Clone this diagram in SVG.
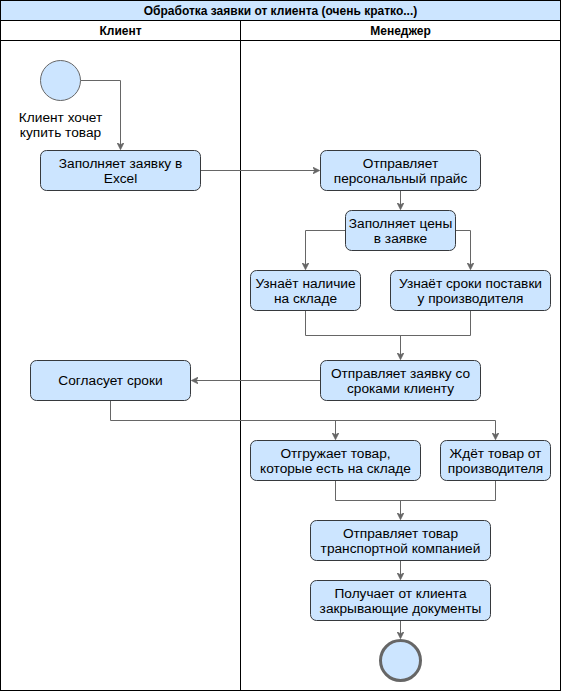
<svg xmlns="http://www.w3.org/2000/svg" width="561" height="691" viewBox="0 0 561 691">
<defs>
<style>
.box{fill:#cce5ff;stroke:#36393d;stroke-width:1}
.t{font-family:"Liberation Sans",Arial,sans-serif;font-size:13.7px;fill:#000;text-anchor:middle}
.h{font-family:"Liberation Sans",Arial,sans-serif;font-size:12px;font-weight:bold;fill:#000;text-anchor:middle}
.c{fill:none;stroke:#666666;stroke-width:1}
.lane{fill:none;stroke:#000;stroke-width:1}
</style>
<marker id="arr" viewBox="0 0 10 10" refX="9" refY="5" markerWidth="7" markerHeight="7" orient="auto" markerUnits="userSpaceOnUse">
<path d="M0,0 L10,5 L0,10 L3,5 Z" fill="#666666" stroke="#666666" stroke-width="1"/>
</marker>
</defs>
<rect x="0" y="0" width="561" height="691" fill="#ffffff"/>
<g id="pool">
<rect x="0.5" y="0.5" width="560" height="20" fill="#cce5ff" stroke="#000"/>
<rect class="lane" x="0.5" y="0.5" width="560" height="690"/>
<line class="lane" x1="0.5" y1="40.5" x2="560.5" y2="40.5"/>
<line class="lane" x1="240.5" y1="20.5" x2="240.5" y2="690.5"/>
<text class="h" x="280.5" y="14.8">Обработка заявки от клиента (очень кратко...)</text>
<text class="h" x="120.5" y="34.8">Клиент</text>
<text class="h" x="400.5" y="34.8">Менеджер</text>
</g>
<g id="connectors">
<path class="c" d="M80.5,80.5 H120.5 V149" marker-end="url(#arr)"/>
<path class="c" d="M200.5,170.5 H319" marker-end="url(#arr)"/>
<path class="c" d="M400.5,190.5 V209" marker-end="url(#arr)"/>
<path class="c" d="M345.5,230.5 H305.5 V269" marker-end="url(#arr)"/>
<path class="c" d="M455.5,230.5 H470.5 V269" marker-end="url(#arr)"/>
<path class="c" d="M305.5,310.5 V335.5 H470.5 V310.5"/>
<path class="c" d="M400.5,335.5 V359" marker-end="url(#arr)"/>
<path class="c" d="M320.5,380.5 H192" marker-end="url(#arr)"/>
<path class="c" d="M110.5,400.5 V420.5 H495.5 V439" marker-end="url(#arr)"/>
<path class="c" d="M335.5,420.5 V439" marker-end="url(#arr)"/>
<path class="c" d="M335.5,480.5 V500.5 H495.5 V480.5"/>
<path class="c" d="M400.5,500.5 V519" marker-end="url(#arr)"/>
<path class="c" d="M400.5,560.5 V579" marker-end="url(#arr)"/>
<path class="c" d="M400.5,620.5 V638" marker-end="url(#arr)"/>
</g>
<g id="start">
<circle class="box" cx="60.5" cy="80.5" r="20" style="stroke:#666666"/>
<text class="t" x="60.5" y="121.5">Клиент хочет</text>
<text class="t" x="60.5" y="136.5">купить товар</text>
</g>
<g id="n1">
<rect class="box" x="40.5" y="150.5" width="160" height="40" rx="6"/>
<text class="t" x="120.5" y="167.9">Заполняет заявку в</text>
<text class="t" x="120.5" y="182.9">Excel</text>
</g>
<g id="n2">
<rect class="box" x="320.5" y="150.5" width="160" height="40" rx="6"/>
<text class="t" x="400.5" y="167.9">Отправляет</text>
<text class="t" x="400.5" y="182.9">персональный прайс</text>
</g>
<g id="n3">
<rect class="box" x="345.5" y="210.5" width="110" height="40" rx="6"/>
<text class="t" x="400.5" y="227.9">Заполняет цены</text>
<text class="t" x="400.5" y="242.9">в заявке</text>
</g>
<g id="n4">
<rect class="box" x="250.5" y="270.5" width="110" height="40" rx="6"/>
<text class="t" x="305.5" y="287.9">Узнаёт наличие</text>
<text class="t" x="305.5" y="302.9">на складе</text>
</g>
<g id="n5">
<rect class="box" x="390.5" y="270.5" width="160" height="40" rx="6"/>
<text class="t" x="470.5" y="287.9">Узнаёт сроки поставки</text>
<text class="t" x="470.5" y="302.9">у производителя</text>
</g>
<g id="n6">
<rect class="box" x="320.5" y="360.5" width="160" height="40" rx="6"/>
<text class="t" x="400.5" y="377.9">Отправляет заявку со</text>
<text class="t" x="400.5" y="392.9">сроками клиенту</text>
</g>
<g id="n7">
<rect class="box" x="30.5" y="360.5" width="160" height="40" rx="6"/>
<text class="t" x="110.5" y="385.4">Согласует сроки</text>
</g>
<g id="n8">
<rect class="box" x="250.5" y="440.5" width="170" height="40" rx="6"/>
<text class="t" x="335.5" y="457.9">Отгружает товар,</text>
<text class="t" x="335.5" y="472.9">которые есть на складе</text>
</g>
<g id="n9">
<rect class="box" x="440.5" y="440.5" width="110" height="40" rx="6"/>
<text class="t" x="495.5" y="457.9">Ждёт товар от</text>
<text class="t" x="495.5" y="472.9">производителя</text>
</g>
<g id="n10">
<rect class="box" x="310.5" y="520.5" width="180" height="40" rx="6"/>
<text class="t" x="400.5" y="537.9">Отправляет товар</text>
<text class="t" x="400.5" y="552.9">транспортной компанией</text>
</g>
<g id="n11">
<rect class="box" x="310.5" y="580.5" width="180" height="40" rx="6"/>
<text class="t" x="400.5" y="597.9">Получает от клиента</text>
<text class="t" x="400.5" y="612.9">закрывающие документы</text>
</g>
<g id="end">
<circle cx="400.5" cy="660.5" r="20" fill="#cce5ff" stroke="#666666" stroke-width="3"/>
</g>
</svg>
